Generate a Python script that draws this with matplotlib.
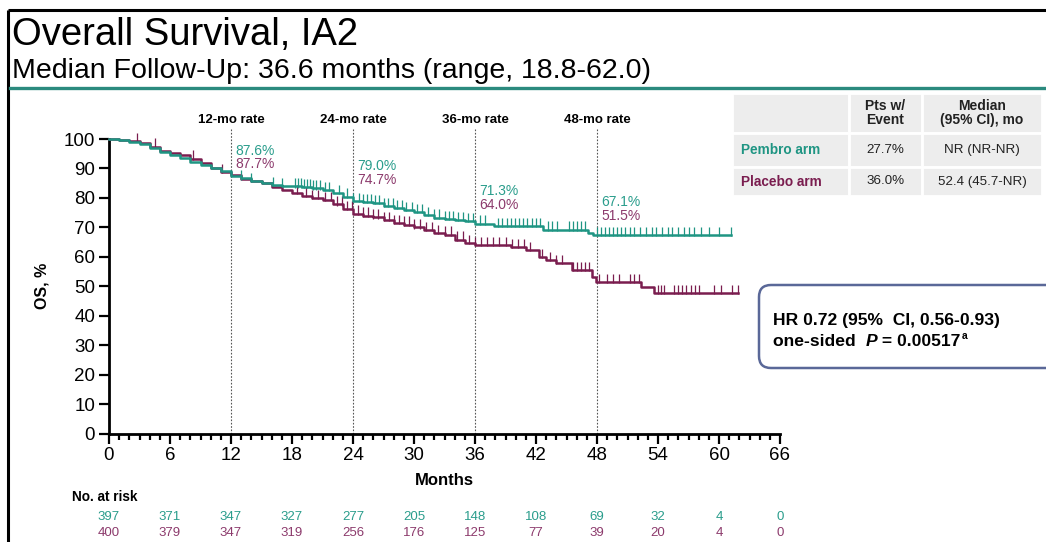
import numpy as np
import matplotlib
matplotlib.use('Agg')
import matplotlib.pyplot as plt
from matplotlib.patches import Rectangle, FancyBboxPatch
from matplotlib.transforms import blended_transform_factory

plt.rcParams['font.family'] = ['Liberation Sans', 'DejaVu Sans']

teal = '#1f9583'
maroon = '#7a1d4f'
teal_txt = '#2a9d8c'
maroon_txt = '#8c3a6c'

# KM step points (months, OS %)
pembro_t = [0, 1, 2, 3, 4, 5, 6, 7, 8, 9, 10, 11, 12, 13, 14, 15, 16, 17, 18, 19, 20,
            21, 22, 23, 24, 25, 26, 27, 28, 29, 30, 31, 32, 33, 34, 35, 36, 37.9, 42.7,
            47.1, 47.6, 61.2]
pembro_s = [100, 99.6, 99.0, 98.2, 96.8, 95.6, 94.6, 93.4, 92.3, 91.3, 90.2, 89.0, 87.6,
            86.6, 85.8, 85.2, 84.3, 84.0, 83.9, 83.6, 83.2, 82.6, 81.6, 80.4, 79.0, 78.6,
            78.2, 77.3, 76.5, 75.9, 75.2, 74.2, 73.3, 72.8, 72.5, 72.2, 71.3, 70.5, 69.2,
            68.0, 67.3, 67.3]
placebo_t = [0, 1, 2, 3, 4, 5, 6, 7, 8, 9, 10, 11, 12, 13, 14, 15, 16, 17, 18, 19, 20,
             21, 22, 23, 24, 25, 26, 27, 28, 29, 30, 31, 32, 33, 34, 35, 36, 39.5, 41,
             42.3, 43, 44, 45.5, 47.5, 47.9, 52.3, 53.6, 61.9]
placebo_s = [100, 99.8, 99.3, 98.5, 97.4, 96.0, 95.2, 94.4, 93.3, 92.0, 90.2, 88.8, 87.7,
             86.5, 85.8, 85.0, 83.8, 82.7, 81.6, 80.8, 80.0, 79.3, 77.8, 76.3, 74.7, 74.0,
             73.4, 72.4, 71.5, 70.9, 70.0, 69.0, 68.0, 67.5, 65.8, 64.6, 64.0, 63.3, 62.3,
             60.0, 58.9, 57.8, 55.5, 53.2, 51.5, 49.8, 47.6, 47.6]

# censor marks (months)
pembro_cens = [13.0, 14.0, 16.1, 17.0, 18.3, 18.6, 18.9, 19.2, 19.5, 19.8, 20.1, 20.4,
               20.8, 21.2, 21.6, 22.6, 23.4, 24.0, 24.6, 25.0, 25.4, 25.8, 26.2, 26.6,
               27.0, 27.4, 27.9, 28.3, 28.8, 29.2, 29.8, 30.3, 30.8, 31.4, 32.0, 32.5,
               33.0, 33.4, 33.8, 34.3, 34.8, 35.3, 35.8, 36.5, 37.0, 38.3, 38.7, 39.1,
               39.5, 39.9, 40.3, 40.7, 41.1, 41.6, 42.0, 42.4, 43.2, 43.6, 44.1, 45.2,
               45.6, 46.0, 46.4, 46.8, 48.0, 48.4, 48.8, 49.2, 49.6, 50.0, 50.4, 50.8,
               51.2, 51.6, 52.2, 52.8, 53.4, 53.8, 54.4, 55.0, 55.4, 56.0, 56.6, 57.0,
               57.5, 58.2, 59.0, 60.0, 61.2]
placebo_cens = [2.8, 4.5, 8.3, 11.1, 18.5, 19.4, 20.0, 20.6, 21.2, 21.8, 22.4, 22.9, 23.4,
                23.9, 24.5, 25.0, 25.5, 26.0, 26.5, 27.0, 27.5, 28.0, 28.5, 29.0, 29.5,
                30.0, 30.6, 31.2, 31.8, 32.4, 33.0, 33.6, 34.2, 34.8, 35.4, 36.0, 36.6,
                37.2, 37.8, 38.4, 39.0, 39.6, 40.2, 40.8, 41.4, 42.6, 43.4, 44.0, 44.6,
                45.6, 46.0, 46.4, 46.8, 47.2, 48.2, 49.0, 49.6, 50.2, 51.2, 51.6, 52.1,
                54.0, 54.3, 54.6, 55.6, 56.0, 56.4, 56.8, 57.2, 57.6, 58.0, 59.5, 60.2,
                61.3, 61.9]

rate_months = [12, 24, 36, 48]
pembro_rates = ['87.6%', '79.0%', '71.3%', '67.1%']
placebo_rates = ['87.7%', '74.7%', '64.0%', '51.5%']
rate_y_teal = [95.9, 90.8, 82.3, 78.6]
rate_y_maroon = [91.5, 86.1, 77.6, 73.9]

risk_months = [0, 6, 12, 18, 24, 30, 36, 42, 48, 54, 60, 66]
pembro_risk = [397, 371, 347, 327, 277, 205, 148, 108, 69, 32, 4, 0]
placebo_risk = [400, 379, 347, 319, 256, 176, 125, 77, 39, 20, 4, 0]

tbl_header = ['', 'Pts w/\nEvent', 'Median\n(95% CI), mo']
tbl_rows = [['Pembro arm', '27.7%', 'NR (NR-NR)'],
            ['Placebo arm', '36.0%', '52.4 (45.7-NR)']]

W, H = 1046, 542
fig = plt.figure(figsize=(W / 100, H / 100), dpi=100)

# main KM axes (transparent so the table/box underneath stay visible)
ax = fig.add_axes([109 / W, 1 - 433.5 / H, 671 / W, (433.5 - 139) / H])
ax.patch.set_visible(False)

# canvas axes in pixel coordinates for the slide decorations
cv = fig.add_axes([0, 0, 1, 1], zorder=-1)
cv.set_xlim(0, W)
cv.set_ylim(H, 0)
cv.axis('off')

cv.plot([8, W], [10, 10], color='black', lw=2.2, solid_capstyle='butt')
cv.plot([8, 8], [10, H], color='black', lw=2.2, solid_capstyle='butt')
cv.plot([10, W], [88, 88], color='#2b8a7e', lw=2.4)

cv.text(12, 45, 'Overall Survival, IA2', fontsize=27.5, va='baseline', ha='left')
cv.text(12, 78, 'Median Follow-Up: 36.6 months (range, 18.8-62.0)', fontsize=20.5,
        va='baseline', ha='left')

# table
col_x = [732, 849, 922, 1042]
row_y = [93, 133, 167, 196]
for r in range(3):
    for c in range(3):
        cv.add_patch(Rectangle((col_x[c], row_y[r]), col_x[c + 1] - col_x[c],
                               row_y[r + 1] - row_y[r], facecolor='#ededed',
                               edgecolor='white', lw=2))
for c in range(1, 3):
    cv.text((col_x[c] + col_x[c + 1]) / 2, (row_y[0] + row_y[1]) / 2, tbl_header[c],
            ha='center', va='center', fontsize=10, fontweight='bold',
            linespacing=0.95, color='#222222')
for r, row in enumerate(tbl_rows):
    yc = (row_y[r + 1] + row_y[r + 2]) / 2
    cv.text(col_x[0] + 9, yc, row[0], ha='left', va='center', fontsize=9.8,
            fontweight='bold', color=teal if r == 0 else maroon)
    for c in (1, 2):
        cv.text((col_x[c] + col_x[c + 1]) / 2, yc, row[c], ha='center', va='center',
                fontsize=9.6, color='#222222')

# HR box
cv.add_patch(FancyBboxPatch((759, 285), 300, 83, boxstyle='round,pad=0,rounding_size=12',
                            facecolor='white', edgecolor='#5a6898', lw=1.8))
cv.text(773, 321, 'HR 0.72 (95%  CI, 0.56-0.93)', fontsize=12.6, fontweight='bold',
        va='center', ha='left')
fig.canvas.draw()
rend = fig.canvas.get_renderer()
x0 = 773
for piece, style in [('one-sided  ', 'normal'), ('P', 'italic'), (' = 0.00517', 'normal')]:
    t = cv.text(x0, 341, piece, fontsize=12.6, fontweight='bold', fontstyle=style,
                va='center', ha='left')
    x0 += t.get_window_extent(rend).width
cv.text(x0 + 1, 336, 'a', fontsize=7.5, fontweight='bold', va='center', ha='left')

ax.set_xlim(0, 66)
ax.set_ylim(0, 100)
for s in ['top', 'right']:
    ax.spines[s].set_visible(False)
for s in ['left', 'bottom']:
    ax.spines[s].set_linewidth(2)
ax.set_xticks(np.arange(0, 67, 6))
ax.set_xticks(np.arange(0, 67, 1), minor=True)
ax.set_yticks(np.arange(0, 101, 10))
ax.tick_params(axis='both', which='major', length=7, width=1.6, labelsize=13.5, pad=3)
ax.tick_params(axis='x', which='minor', length=4, width=1.6)
ax.tick_params(axis='y', which='minor', left=False)

for m in rate_months:
    ax.vlines(m, 0, 103.8, color='#555555', lw=0.8, linestyles=(0, (1.5, 1.5)),
              clip_on=False, zorder=1)
    ax.text(m, 106.5, f'{m}-mo rate', ha='center', va='center', fontsize=9.5,
            fontweight='bold')
for m, pt, pl, yt, yl in zip(rate_months, pembro_rates, placebo_rates, rate_y_teal,
                             rate_y_maroon):
    ax.text(m + 0.45, yt, pt, color=teal_txt, fontsize=10, va='center', ha='left')
    ax.text(m + 0.45, yl, pl, color=maroon_txt, fontsize=10, va='center', ha='left')

for tt, ss, cens, col in [(placebo_t, placebo_s, placebo_cens, maroon),
                          (pembro_t, pembro_s, pembro_cens, teal)]:
    ax.step(tt, ss, where='post', color=col, lw=1.8, clip_on=False, zorder=3)
    idx = np.searchsorted(tt, cens, side='right') - 1
    sv = np.array(ss)[idx]
    ax.vlines(cens, sv - 0.4, sv + 2.8, color=col, lw=0.9, zorder=3, clip_on=False)

ax.set_ylabel('OS, %', fontsize=11.5, fontweight='bold', labelpad=10)
ax.set_xlabel('Months', fontsize=12, fontweight='bold', labelpad=6)

tr = blended_transform_factory(ax.transData, cv.transData)
ax.text(72, 497, 'No. at risk', transform=cv.transData, fontsize=9.8, fontweight='bold',
        va='center', ha='left')
for m, a, b in zip(risk_months, pembro_risk, placebo_risk):
    ax.text(m, 517, str(a), transform=tr, ha='center', va='center', fontsize=9.5,
            color=teal_txt)
    ax.text(m, 533, str(b), transform=tr, ha='center', va='center', fontsize=9.5,
            color=maroon_txt)

fig.savefig('out.png', dpi=100)
